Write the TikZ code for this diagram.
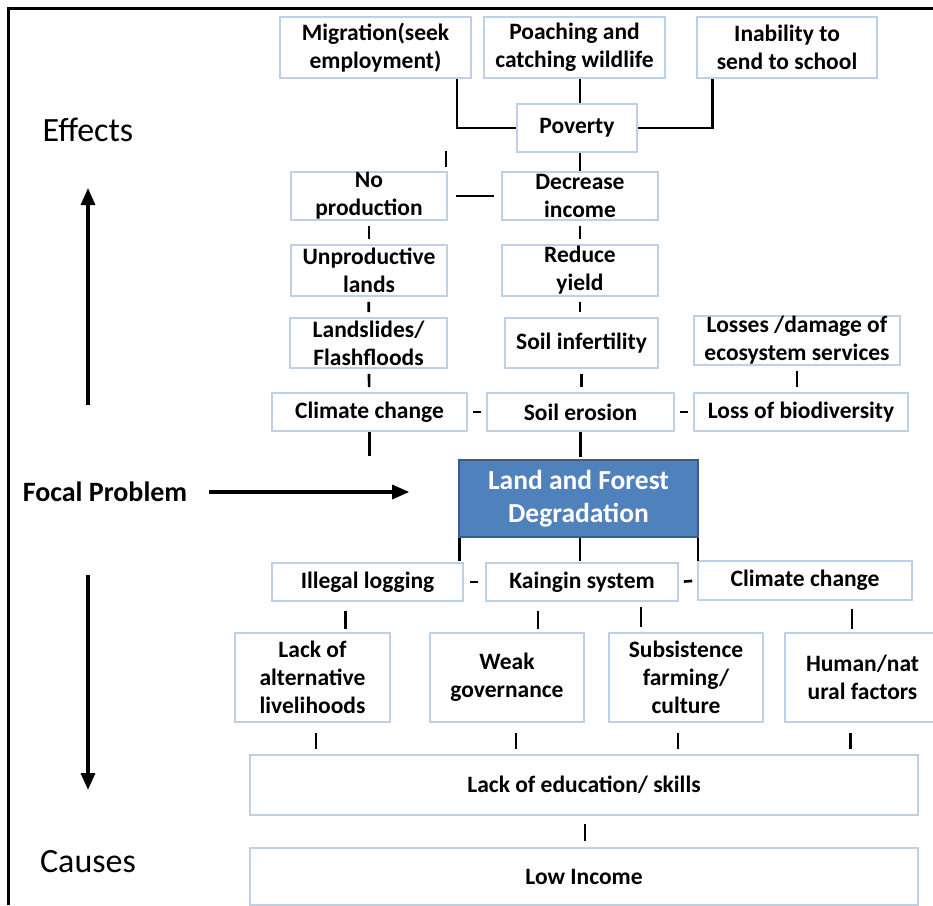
\documentclass[tikz,border=0pt]{standalone}
\usepackage{fontspec}
\setmainfont{Carlito}
\usepackage{xcolor}
\usepackage{tikz}
\usetikzlibrary{positioning,arrows.meta}
\definecolor{boxline}{RGB}{190,208,232}
\definecolor{focalblue}{RGB}{79,129,189}
\definecolor{focaledge}{RGB}{56,93,138}

\begin{document}
\begin{tikzpicture}[x=1pt, y=-1pt,
  box/.style={draw=boxline, line width=1.6pt, fill=white, inner xsep=0pt, inner ysep=-3pt, align=center, font=\bfseries\fontsize{23.5}{28}\selectfont},
  link/.style={line width=2.6pt},
  bigarrow/.style={line width=3.2pt, -{Triangle[length=17pt,width=14pt]}},
  side/.style={font=\fontsize{34}{40}\selectfont}]
\fill[white] (0,0) rectangle (933,905);
\useasboundingbox (0,0) rectangle (933,905);
\draw[line width=3pt] (8,905) -- (8,8) -- (933,8);

\node[box, minimum width=191pt, minimum height=61pt] (migr) at (375.5,47.5) {Migration(seek\\employment)};
\node[box, minimum width=181pt, minimum height=61pt] (poach) at (574.5,47.5) {Poaching and\\catching wildlife};
\node[box, minimum width=180pt, minimum height=61pt] (inab) at (787,47.5) {Inability to\\send to school};
\node[box, minimum width=120pt, minimum height=48pt] (pov) at (577,128) {Poverty};

\node[box, minimum width=156pt, minimum height=48pt] (noprod) at (369,196) {No\\production};
\node[box, minimum width=156pt, minimum height=48pt] (decinc) at (580,196) {Decrease\\income};
\node[box, minimum width=156pt, minimum height=51pt] (unprod) at (369,270.5) {Unproductive\\lands};
\node[box, minimum width=156pt, minimum height=51pt] (redyield) at (580,270.5) {Reduce\\yield};
\node[box, minimum width=157pt, minimum height=50pt] (landsl) at (368.5,343) {Landslides/\\Flashfloods};
\node[box, minimum width=153pt, minimum height=50pt] (soilinf) at (581.5,343) {Soil infertility};
\node[box, minimum width=206pt, minimum height=49pt] (losses) at (797,340.5) {Losses /damage of\\ecosystem services};
\node[box, minimum width=195pt, minimum height=38pt] (climeff) at (369.5,412) {Climate change};
\node[box, minimum width=187pt, minimum height=38pt] (soil) at (580.5,412) {Soil erosion};
\node[box, minimum width=214pt, minimum height=38pt] (lossbio) at (801,412) {Loss of biodiversity};

\node[box, draw=focaledge, fill=focalblue, text=white, minimum width=239pt, minimum height=77pt,
  font=\bfseries\fontsize{27.5}{33}\selectfont] (focal) at (578.5,498.5) {Land and Forest\\Degradation};

\node[box, minimum width=191pt, minimum height=38pt] (illegal) at (367.5,582) {Illegal logging};
\node[box, minimum width=192pt, minimum height=38pt] (kaingin) at (582,582) {Kaingin system};
\node[box, minimum width=214pt, minimum height=39pt] (climcau) at (805,580.5) {Climate change};
\node[box, minimum width=155pt, minimum height=89pt] (lackalt) at (312.5,677.5) {Lack of\\alternative\\livelihoods};
\node[box, minimum width=154pt, minimum height=89pt] (weak) at (507,677.5) {Weak\\governance};
\node[box, minimum width=154pt, minimum height=89pt] (subsist) at (686,677.5) {Subsistence\\farming/\\culture};
\node[box, minimum width=155pt, minimum height=89pt] (human) at (862.5,677.5) {Human/nat\\ural factors};
\node[box, minimum width=668pt, minimum height=60pt] (lackedu) at (584,785) {Lack of education/ skills};
\node[box, minimum width=668pt, minimum height=57pt] (lowinc) at (584,876.5) {Low Income};

\node[side] (effects) at (88,130) {Effects};
\node[side] (causes) at (88,862) {Causes};
\node[font=\bfseries\fontsize{28}{33}\selectfont, inner sep=0pt] (focallbl) at (105,492) {Focal Problem};
\coordinate (upbot) at (88,405);
\coordinate (uptop) at (88,188);
\coordinate (downtop) at (88,575);
\coordinate (downbot) at (88,790);

\draw[bigarrow] (upbot) -- (uptop);
\draw[bigarrow] (downtop) -- (downbot);
\draw[bigarrow, shorten <=22pt, shorten >=49pt] (focallbl.east) -- (focallbl.east -| focal.west);

\draw[link] ([xshift=-15pt]migr.south east) |- (pov.west);
\draw[link] ([xshift=16pt]inab.south west) |- (pov.east);
\draw[link] (pov.north -| 580,0) -- (poach.south -| 580,0);
\draw[link] ([xshift=-2pt,yshift=4pt]noprod.north east) -- ++(0,-16);
\draw[link] (decinc.north) -- (decinc.north |- pov.south);
\draw[link, shorten <=8pt, shorten >=7pt] (noprod.east) -- (decinc.west);
\draw[link, shorten <=5pt, shorten >=5pt] (noprod) -- (unprod);
\draw[link, shorten <=5pt, shorten >=5pt] (unprod) -- (landsl);
\draw[link, shorten <=5pt, shorten >=5pt] (landsl) -- (climeff);
\draw[link, shorten <=5pt, shorten >=5pt] (decinc) -- (redyield);
\draw[link, shorten <=5pt, shorten >=5pt] (redyield.south) -- (redyield.south |- soilinf.north);
\draw[link, shorten <=5pt, shorten >=5pt] (soilinf.south) -- (soilinf.south |- soil.north);
\draw[link, shorten <=5pt, shorten >=5pt] (losses.south) -- (losses.south |- lossbio.north);
\draw[link, shorten <=5pt, shorten >=5pt] (climeff.east) -- (soil.west);
\draw[link, shorten <=5pt, shorten >=5pt] (soil.east) -- (lossbio.west);
\draw[link] (climeff.south) -- ++(0,24);
\draw[link] (soil.south) -- ([yshift=2pt]soil.south |- focal.north);

\draw[link] ([xshift=1pt]focal.south west) -- ++(0,23);
\draw[link] (focal.south -| 580,0) -- ++(0,23);
\draw[link] ([xshift=-1pt]focal.south east) -- ++(0,23);
\draw[link, shorten <=6pt, shorten >=7pt] (illegal.east) -- (kaingin.west);
\draw[link, shorten <=5pt, shorten >=5pt] (kaingin.east) -- (climcau.west);

\draw[link] ([xshift=-22pt]illegal.south) ++(0,9) -- ++(0,18);
\draw[link] ([xshift=-44pt]kaingin.south) ++(0,9) -- ++(0,18);
\draw[link] ([xshift=59pt]kaingin.south) ++(0,5) -- ++(0,20);
\draw[link] ([xshift=47pt]climcau.south) ++(0,8) -- ++(0,20);

\draw[link] ([xshift=3.5pt]lackalt.south) ++(0,10) -- ++(0,16);
\draw[link] ([xshift=9pt]weak.south) ++(0,10) -- ++(0,16);
\draw[link] ([xshift=-8pt]subsist.south) ++(0,10) -- ++(0,16);
\draw[link] ([xshift=-12pt]human.south) ++(0,10) -- ++(0,16);
\draw[link] ([xshift=1pt]lackedu.south) ++(0,8) -- ++(0,17);
\end{tikzpicture}
\end{document}
